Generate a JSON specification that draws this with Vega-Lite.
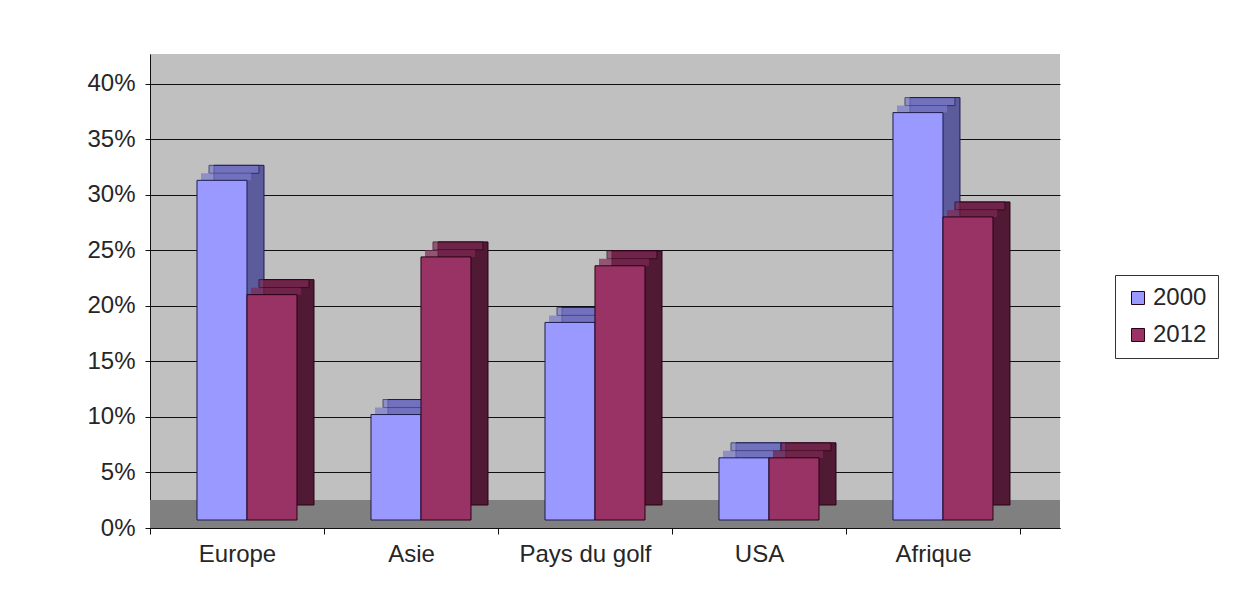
{
  "$schema": "https://vega.github.io/schema/vega-lite/v6.json",
  "width": 910,
  "height": 474,
  "autosize": {"type": "none"},
  "padding": {"left": 150, "top": 54, "right": 175, "bottom": 87},
  "background": "white",
  "config": {
    "view": {"fill": "#c0c0c0", "stroke": null},
    "font": "Liberation Sans",
    "axis": {"labelFont": "Liberation Sans", "labelFontSize": 24, "labelColor": "#262626", "domainColor": "#111111", "tickColor": "#111111", "title": null}
  },
  "data": {
    "values": [
      {"region": "Europe", "year": "2000", "value": 30.6},
      {"region": "Europe", "year": "2012", "value": 20.3},
      {"region": "Asie", "year": "2000", "value": 9.5},
      {"region": "Asie", "year": "2012", "value": 23.7},
      {"region": "Pays du golf", "year": "2000", "value": 17.8},
      {"region": "Pays du golf", "year": "2012", "value": 22.9},
      {"region": "USA", "year": "2000", "value": 5.6},
      {"region": "USA", "year": "2012", "value": 5.6},
      {"region": "Afrique", "year": "2000", "value": 36.7},
      {"region": "Afrique", "year": "2012", "value": 27.3}
    ]
  },
  "encoding": {
    "y": {
      "field": "value",
      "type": "quantitative",
      "scale": {"domain": [0, 42.7], "nice": false},
      "axis": {"values": [0, 5, 10, 15, 20, 25, 30, 35, 40], "labelExpr": "datum.value + '%'", "tickSize": 5, "labelPadding": 10, "grid": true, "gridColor": "#111111", "gridWidth": 1.2, "domainColor": "#111111", "title": null}
    }
  },
  "layer": [
    {
      "mark": {"type": "rect", "fill": "#808080"},
      "encoding": {"y": {"datum": 0, "type": "quantitative"}, "y2": {"datum": 2.5}}
    },
    {
      "encoding": {
        "x": {
          "field": "region",
          "type": "nominal",
          "sort": ["Europe", "Asie", "Pays du golf", "USA", "Afrique"],
          "scale": {"paddingInner": 0, "paddingOuter": 0.115, "align": 0},
          "axis": {"labelAngle": 0, "tickBand": "extent", "tickSize": 6, "labelPadding": 8, "grid": false, "title": null}
        }
      },
      "layer": [
        {
          "transform": [{"filter": "datum.year === '2000'"}],
          "mark": {"type": "bar", "width": 50, "xOffset": 2, "yOffset": -23, "fill": "#5c5c9c", "stroke": "#1c1c50", "strokeWidth": 1}
        },
        {
          "transform": [{"filter": "datum.year === '2000'"}],
          "mark": {"type": "tick", "size": 50, "thickness": 8, "xOffset": -3, "yOffset": -19, "fill": "#7b7bcc", "stroke": "#1c1c50", "strokeWidth": 1}
        },
        {
          "transform": [{"filter": "datum.year === '2000'"}],
          "mark": {"type": "tick", "size": 50, "thickness": 7, "xOffset": -11, "yOffset": -11.5, "fill": "#7b7bcc", "strokeWidth": 0}
        },
        {
          "transform": [{"filter": "datum.year === '2000'"}],
          "mark": {"type": "bar", "width": 50, "xOffset": -15, "yOffset": -8, "stroke": "#1c1c50", "strokeWidth": 1},
          "encoding": {
            "color": {
              "field": "year",
              "type": "nominal",
              "scale": {"domain": ["2000", "2012"], "range": ["#9999ff", "#993366"]},
              "legend": {"orient": "none", "legendX": 965, "legendY": 221, "title": null, "labelFontSize": 24, "labelFont": "Liberation Sans", "labelColor": "#262626", "symbolType": "square", "symbolSize": 169, "symbolStrokeColor": "#222222", "symbolStrokeWidth": 1, "strokeColor": "#333333", "fillColor": "white", "padding": 11, "rowPadding": 13, "labelOffset": 3}
            }
          }
        },
        {
          "transform": [{"filter": "datum.year === '2012'"}],
          "mark": {"type": "bar", "width": 50, "xOffset": 52, "yOffset": -23, "fill": "#501a35", "stroke": "#2a0015", "strokeWidth": 1}
        },
        {
          "transform": [{"filter": "datum.year === '2012'"}],
          "mark": {"type": "tick", "size": 50, "thickness": 8, "xOffset": 47, "yOffset": -19, "fill": "#7d2a52", "stroke": "#2a0015", "strokeWidth": 1}
        },
        {
          "transform": [{"filter": "datum.year === '2012'"}],
          "mark": {"type": "tick", "size": 50, "thickness": 7, "xOffset": 39, "yOffset": -11.5, "fill": "#7d2a52", "strokeWidth": 0}
        },
        {
          "transform": [{"filter": "datum.year === '2012'"}],
          "mark": {"type": "bar", "width": 50, "xOffset": 35, "yOffset": -8, "stroke": "#2a0015", "strokeWidth": 1},
          "encoding": {
            "color": {
              "field": "year",
              "type": "nominal",
              "scale": {"domain": ["2000", "2012"], "range": ["#9999ff", "#993366"]}
            }
          }
        }
      ]
    }
  ]
}
